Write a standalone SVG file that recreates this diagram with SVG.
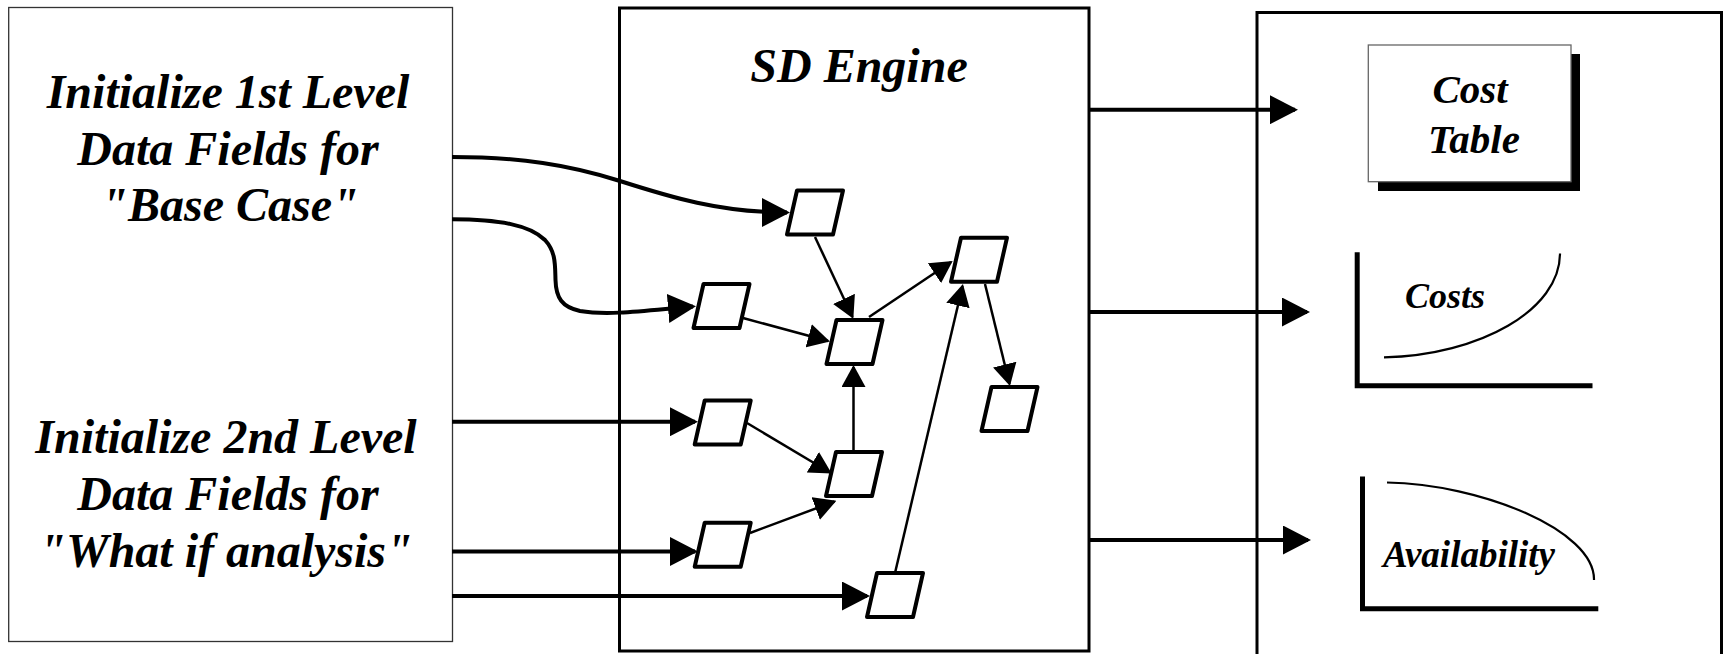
<svg xmlns="http://www.w3.org/2000/svg" width="1724" height="654" viewBox="0 0 1724 654">
<style>
.t{font-family:"Liberation Serif","Times New Roman",serif;font-weight:bold;font-style:italic;fill:#000}
.big{font-size:48px;text-anchor:middle}
.ct{font-size:41px;text-anchor:middle}
.lbl{font-size:36px}
.thick{fill:none;stroke:#000;stroke-width:4}
.thin{fill:none;stroke:#000;stroke-width:2.5}
.para{fill:#fff;stroke:#000;stroke-width:4;stroke-linejoin:round}
.axis{fill:none;stroke:#000;stroke-width:5}
.crv{fill:none;stroke:#000;stroke-width:2.2}
</style>
<defs>
<marker id="ab" markerUnits="userSpaceOnUse" markerWidth="28" markerHeight="29" refX="25" refY="14.5" orient="auto">
<path d="M0,0 L28,14.5 L0,29 Z" fill="#000"/>
</marker>
<marker id="as" markerUnits="userSpaceOnUse" markerWidth="22" markerHeight="24" refX="20" refY="12" orient="auto">
<path d="M0,0 L22,12 L0,24 Z" fill="#000"/>
</marker>
<path id="pg" d="M-18,-22 L28,-22 L18,22 L-28,22 Z"/>
</defs>
<rect width="1724" height="654" fill="#fff"/>

<g id="init-box">
<rect x="8.7" y="7.5" width="443.8" height="634" fill="#fff" stroke="#333" stroke-width="1.3"/>
<text class="t big" x="228" y="108.4">Initialize 1st Level</text>
<text class="t big" x="228" y="164.7">Data Fields for</text>
<text class="t big" x="230" y="221">"Base Case"</text>
<text class="t big" x="226" y="452.5">Initialize 2nd Level</text>
<text class="t big" x="228" y="509.6">Data Fields for</text>
<text class="t big" x="226" y="567.1">"What if analysis"</text>
</g>

<g id="sd-engine">
<rect x="619.5" y="8" width="469.5" height="643" fill="#fff" stroke="#000" stroke-width="3"/>
<text class="t big" x="859" y="81.5">SD Engine</text>
</g>

<g id="results-box">
<rect x="1257" y="12.5" width="464.5" height="660" fill="#fff" stroke="#000" stroke-width="3"/>
</g>

<g id="connectors">
<path class="thick" marker-end="url(#ab)" d="M452,157 C520,157 570,165 620,181 C670,197 720,212.5 787,212.5"/>
<path class="thick" marker-end="url(#ab)" d="M452,219.3 C500,219.5 530,225 545,240 C556,252 555,265 555.5,280 C556,298 562,307 580,311 C610,316 650,310 693,306.5"/>
<path class="thick" marker-end="url(#ab)" d="M452,421.7 L695,421.7"/>
<path class="thick" marker-end="url(#ab)" d="M452,551.5 L695,551.5"/>
<path class="thick" marker-end="url(#ab)" d="M452,596 L867,596"/>
<path class="thin" marker-end="url(#as)" d="M815,237 L852.5,317"/>
<path class="thin" marker-end="url(#as)" d="M743,318 L828,341"/>
<path class="thin" marker-end="url(#as)" d="M869,317 L951,262"/>
<path class="thin" marker-end="url(#as)" d="M895,573 L962.5,286"/>
<path class="thin" marker-end="url(#as)" d="M985,284 L1009.5,384"/>
<path class="thin" marker-end="url(#as)" d="M747,423 L830,472.5"/>
<path class="thin" marker-end="url(#as)" d="M750,533 L834.5,501.5"/>
<path class="thin" marker-end="url(#as)" d="M853.5,451 L853.5,367"/>
<path class="thick" marker-end="url(#ab)" d="M1089,109.7 L1295,109.7"/>
<path class="thick" marker-end="url(#ab)" d="M1089,312 L1307,312"/>
<path class="thick" marker-end="url(#ab)" d="M1089,540 L1308,540"/>
</g>

<g id="node-a"><use href="#pg" class="para" x="815" y="212.5"/></g>
<g id="node-b"><use href="#pg" class="para" x="721.5" y="306"/></g>
<g id="node-c"><use href="#pg" class="para" x="854.5" y="342"/></g>
<g id="node-d"><use href="#pg" class="para" x="979" y="259.7"/></g>
<g id="node-e"><use href="#pg" class="para" x="1009.5" y="409"/></g>
<g id="node-f"><use href="#pg" class="para" x="722.7" y="422.5"/></g>
<g id="node-g"><use href="#pg" class="para" x="854" y="474"/></g>
<g id="node-h"><use href="#pg" class="para" x="722.7" y="544.7"/></g>
<g id="node-i"><use href="#pg" class="para" x="895" y="595"/></g>

<g id="cost-table">
<rect x="1378" y="54" width="202" height="137" fill="#000"/>
<rect x="1368.3" y="45" width="202.7" height="136.7" fill="#fff" stroke="#666" stroke-width="1.3"/>
<text class="t ct" x="1470" y="103">Cost</text>
<text class="t ct" x="1474" y="153">Table</text>
</g>

<g id="costs-chart">
<path class="axis" d="M1357.2,252.3 L1357.2,385.7 L1592.5,385.7"/>
<path class="crv" d="M1384,357.4 C1480,355 1560,310 1560,253.5"/>
<text class="t lbl" x="1405" y="307.8">Costs</text>
</g>

<g id="availability-chart">
<path class="axis" d="M1362.5,476.6 L1362.5,608.8 L1598.3,608.8"/>
<path class="crv" d="M1387,482.5 C1480,484 1595,530 1594,580"/>
<text class="t lbl" x="1383" y="567" style="font-size:37px">Availability</text>
</g>
</svg>
